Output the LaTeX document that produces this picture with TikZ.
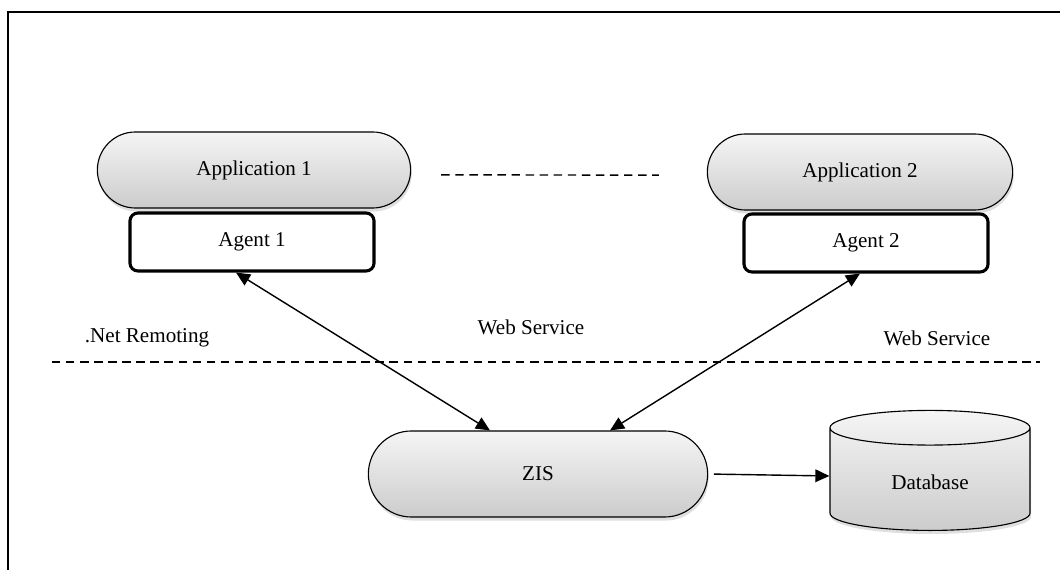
\documentclass[tikz,border=0pt]{standalone}
\usepackage{fontspec}
\setmainfont{Liberation Serif}
\usetikzlibrary{arrows.meta,shapes.geometric,shadows}

\tikzset{
  pilula/.style={draw, thick, minimum height=#1, rounded corners=#1/2, top color=gray!8, bottom color=gray!40,
    drop shadow={opacity=0.25, shadow xshift=0.8pt, shadow yshift=-2.5pt}, font=\fontsize{15}{18}\selectfont},
  pilula/.default=1.9cm,
  agente/.style={draw, line width=2.2pt, rounded corners=0.2cm, fill=white, minimum width=6.1cm, minimum height=1.45cm, font=\fontsize{15}{18}\selectfont},
  banco/.style={draw, thick, cylinder, shape border rotate=90, aspect=0.4, minimum width=5cm, minimum height=3cm,
    top color=gray!8, bottom color=gray!40, drop shadow={opacity=0.25, shadow xshift=0.8pt, shadow yshift=-2.5pt}, font=\fontsize{15}{18}\selectfont},
  rotulo/.style={font=\fontsize{15}{18}\selectfont},
  ponta/.tip={Triangle[length=10pt,width=9pt]},
  seta/.style={line width=1pt, -ponta},
  setadupla/.style={line width=1pt, ponta-ponta},
  tracejado/.style={line width=1pt, dash pattern=on 6pt off 4pt}
}

\begin{document}
\begin{tikzpicture}[x=0.025cm, y=-0.025cm] %Coordenadas em pixels, y para baixo
	\useasboundingbox (0,0) rectangle (1060,570); %Tamanho da figura
		%Moldura
	\draw[line width=2pt] (8,570) -- (8,12) -- (1060,12); %Borda esquerda e superior
		%Aplicações e agentes
	\node[pilula, minimum width=7.83cm] (app1) at (254,170) {Application 1}; %Aplicação 1
	\node[agente] (agente1) at (252,242) {Agent 1}; %Agente 1
	\node[pilula, minimum width=7.63cm] (app2) at (860,172) {Application 2}; %Aplicação 2
	\node[agente] (agente2) at (866,243) {Agent 2}; %Agente 2
	\draw[tracejado] ([xshift=0.75cm, yshift=-0.12cm]app1.east) -- ([xshift=-1.2cm, yshift=-0.08cm]app2.west); %Reticências entre as aplicações
		%Servidor e banco
	\node[pilula=2.15cm, minimum width=8.48cm] (zis) at (538,474) {ZIS}; %Servidor ZIS
	\node[banco] (db) at (930,482) {Database}; %Banco de dados
		%Rótulos e divisão
	\node[rotulo] (remoting) at (147,338) {.Net Remoting}; %Rótulo esquerdo
	\node[rotulo] (ws1) at (531,327) {Web Service}; %Rótulo do meio
	\node[rotulo] (ws2) at (937,338) {Web Service}; %Rótulo direito
	\draw[tracejado] (52,362) -- (1040,362); %Linha divisória
		%Conexões
	\draw[setadupla] ([xshift=-0.4cm]agente1.south) -- ([xshift=-1.2cm]zis.north); %Agente 1 e ZIS
	\draw[setadupla] ([xshift=-0.15cm]agente2.south) -- ([xshift=1.8cm]zis.north); %Agente 2 e ZIS
	\draw[seta, shorten <=4pt] (zis.east) -- ([yshift=0.15cm]db.west); %ZIS e banco de dados
\end{tikzpicture}
\end{document}
